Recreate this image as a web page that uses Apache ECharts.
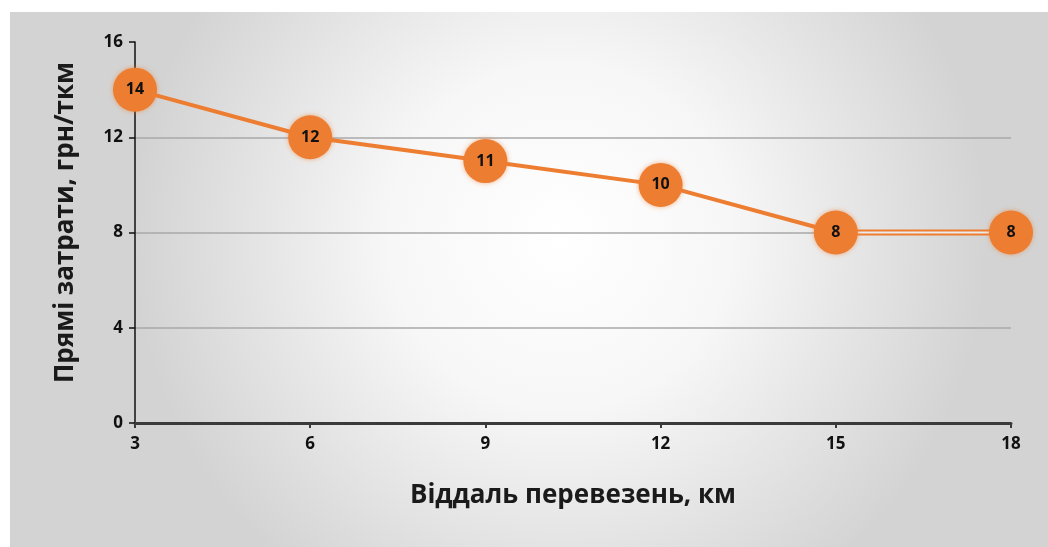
<!DOCTYPE html>
<html>
<head>
<meta charset="utf-8">
<script src="https://cdn.jsdelivr.net/npm/echarts@6/dist/echarts.min.js"></script>
<style>
html,body{margin:0;padding:0;background:#fff;}
#c{width:1048px;height:547px;}
</style>
</head>
<body>
<div id="c"></div>
<script>
const distances = [3, 6, 9, 12, 15, 18];
const costs = [14, 12, 11, 10, 8, 8];
const xTicks = [3, 6, 9, 12, 15, 18];
const yTicks = [0, 4, 8, 12, 16];
const xName = 'Віддаль перевезень, км';
const yName = 'Прямі затрати, грн/ткм';

const pts = distances.map((d, i) => [d, costs[i]]);
const mainLine = pts.slice(0, 5);
const tailLine = pts.slice(4);

const orange = '#ED7D31';
const font = 'Open Sans';

const chart = echarts.init(document.getElementById('c'));
chart.setOption({
  backgroundColor: '#ffffff',
  animation: false,
  graphic: [{
    type: 'rect',
    z: -10,
    silent: true,
    shape: {x: 10, y: 12, width: 1038, height: 535},
    style: {
      fill: {
        type: 'radial', x: 0.53, y: 0.42, r: 0.8,
        colorStops: [
          {offset: 0, color: '#ffffff'},
          {offset: 0.4, color: '#f7f7f7'},
          {offset: 1, color: '#d3d3d3'}
        ]
      }
    }
  }],
  grid: {left: 135, right: 37, top: 42, bottom: 124},
  xAxis: {
    type: 'value',
    min: xTicks[0], max: xTicks[xTicks.length - 1], interval: 3,
    name: xName, nameLocation: 'middle', nameGap: 60,
    nameTextStyle: {fontFamily: font, fontWeight: 'bold', fontSize: 26, color: '#1a1a1a'},
    axisLine: {lineStyle: {color: '#3a3a3a', width: 3}},
    axisTick: {show: true, length: 5, lineStyle: {color: '#3a3a3a', width: 2}},
    axisLabel: {fontFamily: font, fontWeight: 'bold', fontSize: 17, color: '#111', margin: 13},
    splitLine: {show: false}
  },
  yAxis: {
    type: 'value',
    min: yTicks[0], max: yTicks[yTicks.length - 1], interval: 4,
    name: yName, nameLocation: 'middle', nameGap: 56, nameRotate: 90,
    nameTextStyle: {fontFamily: font, fontWeight: 'bold', fontSize: 26, color: '#1a1a1a', padding: [0, 0, 0, 20]},
    axisLine: {show: true, lineStyle: {color: '#111', width: 1.5}},
    axisTick: {show: true, length: 6, lineStyle: {color: '#111', width: 1.5}},
    axisLabel: {fontFamily: font, fontWeight: 'bold', fontSize: 17, color: '#111', margin: 12},
    splitLine: {show: true, showMaxLine: false, lineStyle: {color: '#a8a8a8', width: 1.5}}
  },
  series: [
    {
      type: 'line', data: tailLine, symbol: 'none', z: 2,
      lineStyle: {color: orange, width: 6}
    },
    {
      type: 'line', data: tailLine, symbol: 'none', z: 3,
      lineStyle: {color: '#ececec', width: 2}
    },
    {
      type: 'line', data: mainLine, symbol: 'none', z: 4,
      lineStyle: {color: orange, width: 4}
    },
    {
      type: 'line', data: pts, z: 5,
      symbol: 'circle', symbolSize: 44,
      lineStyle: {width: 0, opacity: 0},
      itemStyle: {color: orange, shadowBlur: 5, shadowColor: 'rgba(237,125,49,0.6)'},
      label: {show: true, position: 'inside', fontFamily: font, fontWeight: 'bold', fontSize: 16, color: '#111'}
    }
  ]
});
</script>
</body>
</html>
